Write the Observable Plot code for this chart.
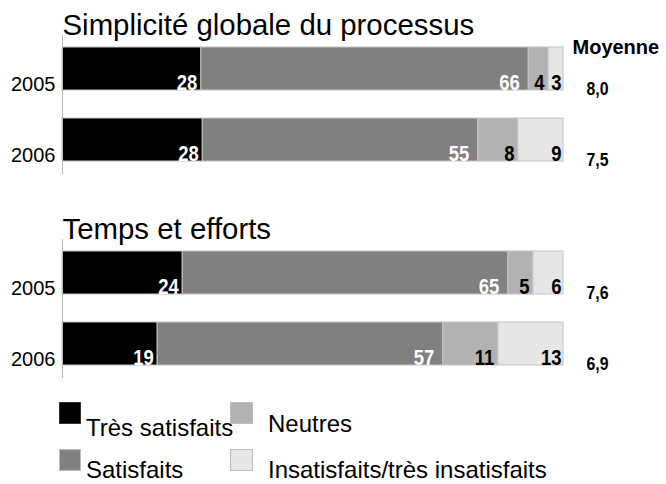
<!DOCTYPE html>
<html>
<head>
<meta charset="utf-8">
<script src="https://cdn.jsdelivr.net/npm/d3@7"></script>
<script src="https://cdn.jsdelivr.net/npm/@observablehq/plot@0.6"></script>
<style>
  html, body { margin: 0; padding: 0; background: #fff; }
  #wrap { width: 666px; height: 484px; position: relative; overflow: hidden; font-family: "Liberation Sans", Arial, sans-serif; }
  #legend { position: relative; width: 666px; height: 94px; }
  .sw { position: absolute; box-sizing: border-box; border: 1px solid #bdbdbd; }
  .lt { position: absolute; font-size: 24px; line-height: 20px; color: #000; white-space: nowrap; }
</style>
</head>
<body>
<div id="wrap"><div id="chart"></div><div id="legend"></div></div>
<script>
const panels = ["Simplicité globale du processus", "Temps et efforts"];
const years = ["2005", "2006"];
const categories = ["Très satisfaits", "Satisfaits", "Neutres", "Insatisfaits/très insatisfaits"];
const colors = ["#000000", "#808080", "#b2b2b2", "#e6e6e6"];
const labelColors = ["#ffffff", "#ffffff", "#000000", "#000000"];
const simplicite2005 = [28, 66, 4, 3];
const simplicite2006 = [28, 55, 8, 9];
const temps2005 = [24, 65, 5, 6];
const temps2006 = [19, 57, 11, 13];
const moyenneSimplicite = [8.0, 7.5];
const moyenneTemps = [7.6, 6.9];

const series = [[simplicite2005, simplicite2006], [temps2005, temps2006]];
const moyennes = [moyenneSimplicite, moyenneTemps];

const data = [];
panels.forEach((p, i) => years.forEach((y, j) => categories.forEach((c, k) => {
  data.push({panel: p, year: y, cat: c, value: series[i][j][k]});
})));
const moyData = [];
panels.forEach((p, i) => years.forEach((y, j) => moyData.push({panel: p, year: y, m: moyennes[i][j]})));

const labelDx = [-4, -9, -4, -2];

const labelMarks = categories.map((c, k) => Plot.text(data, Plot.stackX2({
  x: "value", y: "year", fy: "panel", z: "cat", order: categories, offset: "normalize",
  text: d => d.cat === c ? String(d.value) : null,
  fill: labelColors[k], textAnchor: "end", lineAnchor: "bottom",
  dx: labelDx[k], dy: 21, fontWeight: "bold", fontSize: 22
})));

const chart = Plot.plot({
  width: 666,
  height: 390,
  marginLeft: 62,
  marginRight: 103,
  marginTop: 34,
  marginBottom: 11,
  style: {fontFamily: '"Liberation Sans", Arial, sans-serif', background: "#fff", color: "#000", overflow: "visible"},
  x: {domain: [0, 1], axis: null},
  y: {domain: years, paddingInner: 0.389, paddingOuter: 0.167},
  fy: {domain: panels, paddingInner: 0.317, paddingOuter: 0, axis: null},
  color: {domain: categories, range: colors},
  marks: [
    Plot.barX(data, Plot.stackX({
      x: "value", y: "year", fy: "panel", fill: "cat", order: categories, offset: "normalize",
      stroke: "#c4c4c4", strokeWidth: 1
    })),
    Plot.ruleX([0], {stroke: "#b8b8b8", strokeWidth: 1}),
    Plot.axisY({tickSize: 0, tickPadding: 7, fontSize: 20, lineAnchor: "bottom", dy: 22, label: null}),
    ...labelMarks,
    Plot.text(panels, {fy: d => d, text: d => d, frameAnchor: "top-left", lineAnchor: "bottom", textAnchor: "start", fontSize: 29.4, dy: -1}),
    Plot.text([{panel: panels[0], label: "Moyenne"}], {fy: "panel", text: "label", frameAnchor: "top-right", textAnchor: "start", lineAnchor: "bottom", dx: 9, dy: 18, fontWeight: "bold", fontSize: 20}),
    Plot.text(moyData, {fy: "panel", y: "year", text: d => d.m.toFixed(1).replace(".", ","), frameAnchor: "right", textAnchor: "start", lineAnchor: "bottom", dx: 23, dy: 26, fontWeight: "bold", fontSize: 18})
  ]
});

// condensed look for the bold numeric labels (horizontal squeeze around each text's anchor)
function squeeze(selector, s) {
  chart.querySelectorAll(selector).forEach(t => {
    const tr = t.getAttribute("transform");
    const x = t.getAttribute("x");
    const y = t.getAttribute("y");
    if (x != null || y != null) {
      const xv = +(x || 0), yv = +(y || 0);
      t.removeAttribute("x");
      t.removeAttribute("y");
      t.setAttribute("transform", (tr ? tr + " " : "") + `translate(${xv},${yv}) scale(${s},1)`);
    } else {
      t.setAttribute("transform", (tr ? tr + " " : "") + `scale(${s},1)`);
    }
  });
}
squeeze('g[font-size="22"] text', 0.84);
squeeze('g[font-size="18"] text', 0.88);
document.getElementById("chart").appendChild(chart);

// Legend (2x2 grid)
const legend = document.getElementById("legend");
const swPos = [[59, 12, 22], [59, 59, 22], [230, 12, 23], [230, 59, 23]];
const txPos = [[86, 28], [86, 70], [268, 24], [268, 70]];
categories.forEach((c, k) => {
  const sw = document.createElement("div");
  sw.className = "sw";
  sw.style.left = swPos[k][0] + "px";
  sw.style.top = swPos[k][1] + "px";
  sw.style.width = swPos[k][2] + "px";
  sw.style.height = "22px";
  sw.style.background = colors[k];
  if (k === 0) sw.style.borderColor = "#333";
  legend.appendChild(sw);
  const t = document.createElement("div");
  t.className = "lt";
  t.style.left = txPos[k][0] + "px";
  t.style.top = txPos[k][1] + "px";
  t.textContent = c;
  legend.appendChild(t);
});
</script>
</body>
</html>
